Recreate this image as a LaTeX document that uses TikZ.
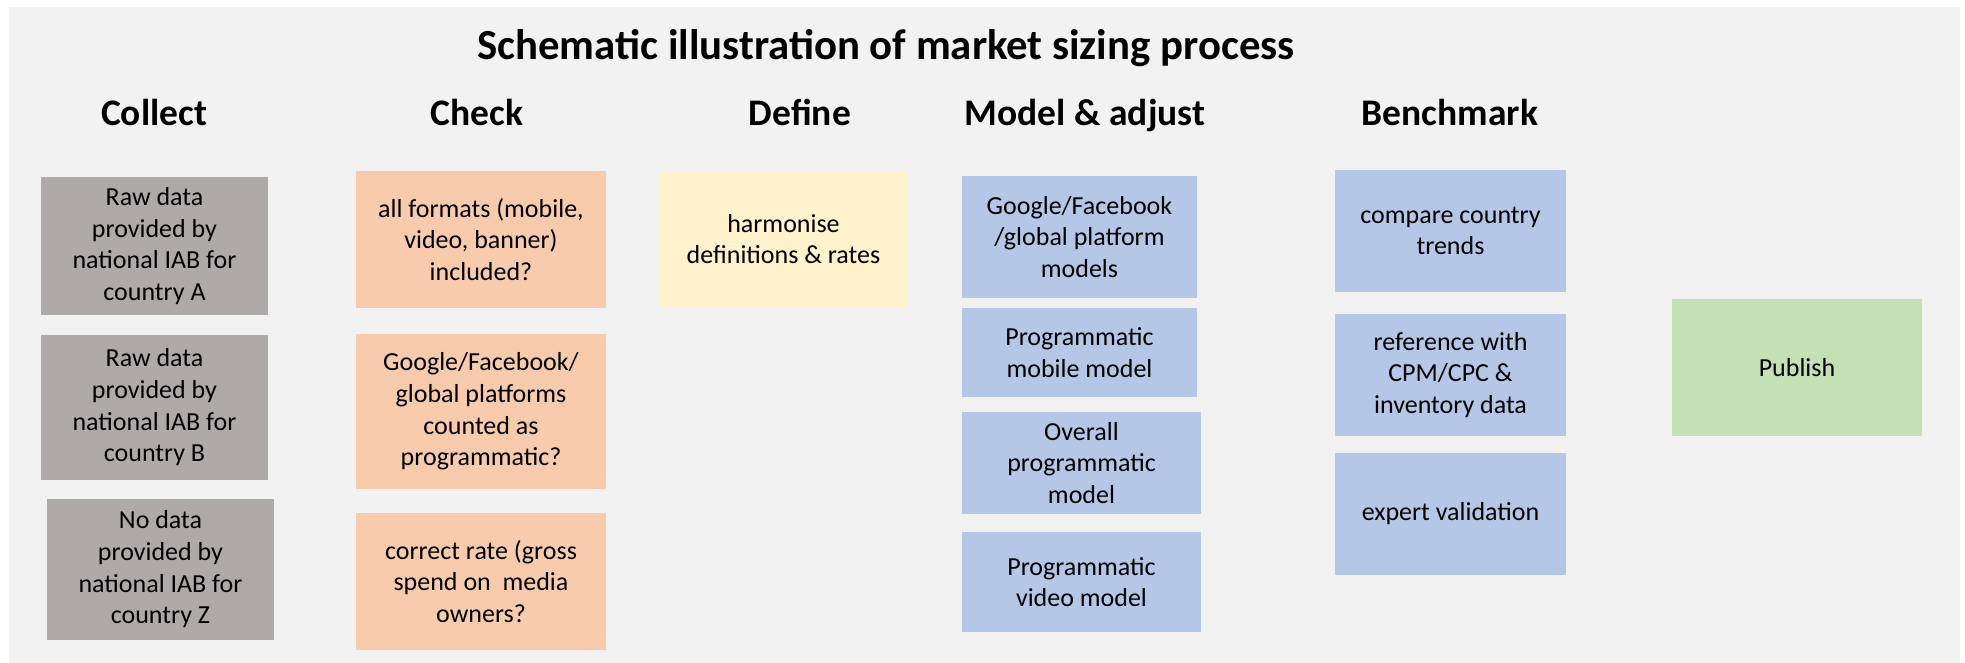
\documentclass[tikz,border=0pt]{standalone}
\usepackage{fontspec}
\setmainfont{Carlito}
\definecolor{bgcol}{HTML}{F2F2F2}
\definecolor{collectcol}{HTML}{AEAAAA}
\definecolor{checkcol}{HTML}{F8CBAD}
\definecolor{definecol}{HTML}{FFF2CC}
\definecolor{modelcol}{HTML}{B4C7E7}
\definecolor{publishcol}{HTML}{C5E0B4}
\tikzset{
  procbox/.style={rectangle, inner sep=0pt, align=center, font=\fontsize{26}{31.7}\selectfont},
  headlab/.style={font=\fontsize{37.5}{45}\selectfont\bfseries, anchor=base},
}
\begin{document}
\begin{tikzpicture}[x=1pt, y=-1pt]
\useasboundingbox (0,0) rectangle (1965,663);
\fill[bgcol] (9,7) rectangle (1960,663);
\node[font=\fontsize{42.8}{51}\selectfont\bfseries, anchor=base] (title) at (886,60) {Schematic illustration of market sizing process};
\foreach \i/\x/\lab in {1/154/Collect, 2/477/Check, 3/800/Define, 4/1085/Model \& adjust, 5/1450/Benchmark}
  \node[headlab] (head\i) at (\x,126) {\lab};

% Collect
\node[procbox, fill=collectcol, minimum width=227, minimum height=138] (colA) at (154.5,246) {Raw data\\provided by\\national IAB for\\country A};
\node[procbox, fill=collectcol, minimum width=227, minimum height=145] (colB) at (154.5,407.5) {Raw data\\provided by\\national IAB for\\country B};
\node[procbox, fill=collectcol, minimum width=227, minimum height=141] (colZ) at (160.5,569.5) {No data\\provided by\\national IAB for\\country Z};

% Check
\node[procbox, fill=checkcol, minimum width=250, minimum height=137] (chk1) at (481,239.5) {all formats (mobile,\\video, banner)\\included?};
\node[procbox, fill=checkcol, minimum width=250, minimum height=155] (chk2) at (481,411.5) {Google/Facebook/\\global platforms\\counted as\\programmatic?};
\node[procbox, fill=checkcol, minimum width=250, minimum height=137] (chk3) at (481,581.5) {correct rate (gross\\spend on~ media\\owners?};

% Define
\node[procbox, fill=definecol, minimum width=249, minimum height=136] (def1) at (783.5,239) {harmonise\\definitions \& rates};

% Model & adjust
\node[procbox, fill=modelcol, minimum width=235, minimum height=122] (mod1) at (1079.5,237) {Google/Facebook\\/global platform\\models};
\node[procbox, fill=modelcol, minimum width=235, minimum height=89] (mod2) at (1079.5,352.5) {Programmatic\\mobile model};
\node[procbox, fill=modelcol, minimum width=239, minimum height=102] (mod3) at (1081.5,463) {Overall\\programmatic\\model};
\node[procbox, fill=modelcol, minimum width=239, minimum height=100] (mod4) at (1081.5,582) {Programmatic\\video model};

% Benchmark
\node[procbox, fill=modelcol, minimum width=231, minimum height=122] (ben1) at (1450.5,231) {compare country\\trends};
\node[procbox, fill=modelcol, minimum width=231, minimum height=122] (ben2) at (1450.5,375) {reference with\\CPM/CPC \&\\inventory data};
\node[procbox, fill=modelcol, minimum width=231, minimum height=122] (ben3) at (1450.5,514) {expert validation};

% Publish
\node[procbox, fill=publishcol, minimum width=250, minimum height=137] (pub) at (1797,367.5) {Publish};
\end{tikzpicture}
\end{document}
